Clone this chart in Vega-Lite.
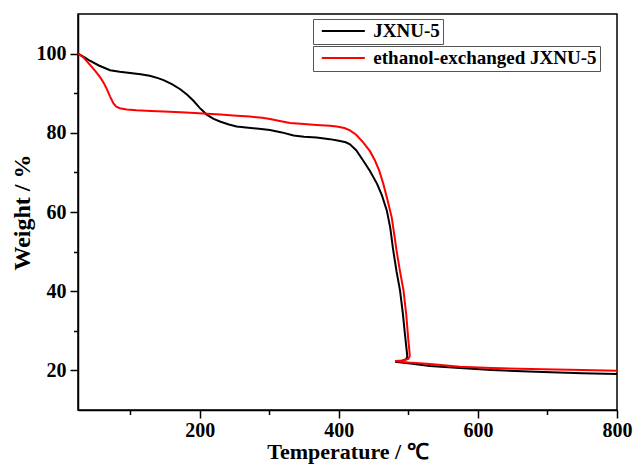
{
  "$schema": "https://vega.github.io/schema/vega-lite/v6.json",
  "width": 539,
  "height": 396,
  "autosize": {"type": "none"},
  "padding": {"left": 78, "top": 14, "right": 21, "bottom": 58},
  "background": "white",
  "config": {
    "view": {"stroke": "black", "strokeWidth": 1.5},
    "font": "Liberation Serif"
  },
  "data": {
    "values": [
      {"series": "JXNU-5", "i": 1, "T": 25, "W": 100},
      {"series": "JXNU-5", "i": 2, "T": 35, "W": 99.0},
      {"series": "JXNU-5", "i": 3, "T": 42, "W": 98.2},
      {"series": "JXNU-5", "i": 4, "T": 55, "W": 97.0},
      {"series": "JXNU-5", "i": 5, "T": 71, "W": 95.8},
      {"series": "JXNU-5", "i": 6, "T": 85, "W": 95.4},
      {"series": "JXNU-5", "i": 7, "T": 100, "W": 95.1},
      {"series": "JXNU-5", "i": 8, "T": 115, "W": 94.8},
      {"series": "JXNU-5", "i": 9, "T": 128, "W": 94.4},
      {"series": "JXNU-5", "i": 10, "T": 140, "W": 93.8},
      {"series": "JXNU-5", "i": 11, "T": 148, "W": 93.3},
      {"series": "JXNU-5", "i": 12, "T": 160, "W": 92.3},
      {"series": "JXNU-5", "i": 13, "T": 172, "W": 91.0},
      {"series": "JXNU-5", "i": 14, "T": 182, "W": 89.6},
      {"series": "JXNU-5", "i": 15, "T": 191, "W": 88.1},
      {"series": "JXNU-5", "i": 16, "T": 200, "W": 86.3},
      {"series": "JXNU-5", "i": 17, "T": 210, "W": 84.6},
      {"series": "JXNU-5", "i": 18, "T": 220, "W": 83.5},
      {"series": "JXNU-5", "i": 19, "T": 230, "W": 82.8},
      {"series": "JXNU-5", "i": 20, "T": 242, "W": 82.1},
      {"series": "JXNU-5", "i": 21, "T": 253, "W": 81.6},
      {"series": "JXNU-5", "i": 22, "T": 270, "W": 81.3},
      {"series": "JXNU-5", "i": 23, "T": 285, "W": 81.0},
      {"series": "JXNU-5", "i": 24, "T": 301, "W": 80.7},
      {"series": "JXNU-5", "i": 25, "T": 318, "W": 80.1},
      {"series": "JXNU-5", "i": 26, "T": 335, "W": 79.3},
      {"series": "JXNU-5", "i": 27, "T": 350, "W": 79.0},
      {"series": "JXNU-5", "i": 28, "T": 368, "W": 78.8},
      {"series": "JXNU-5", "i": 29, "T": 387, "W": 78.4},
      {"series": "JXNU-5", "i": 30, "T": 400, "W": 78.0},
      {"series": "JXNU-5", "i": 31, "T": 410, "W": 77.6},
      {"series": "JXNU-5", "i": 32, "T": 416, "W": 77.1},
      {"series": "JXNU-5", "i": 33, "T": 425, "W": 75.6},
      {"series": "JXNU-5", "i": 34, "T": 435, "W": 73.0},
      {"series": "JXNU-5", "i": 35, "T": 445, "W": 70.3},
      {"series": "JXNU-5", "i": 36, "T": 455, "W": 67.1},
      {"series": "JXNU-5", "i": 37, "T": 462, "W": 64.2},
      {"series": "JXNU-5", "i": 38, "T": 469, "W": 60.4},
      {"series": "JXNU-5", "i": 39, "T": 474, "W": 56.0},
      {"series": "JXNU-5", "i": 40, "T": 478, "W": 50.6},
      {"series": "JXNU-5", "i": 41, "T": 483, "W": 45.0},
      {"series": "JXNU-5", "i": 42, "T": 488, "W": 40.2},
      {"series": "JXNU-5", "i": 43, "T": 492, "W": 34.5},
      {"series": "JXNU-5", "i": 44, "T": 495, "W": 29.3},
      {"series": "JXNU-5", "i": 45, "T": 497, "W": 26.0},
      {"series": "JXNU-5", "i": 46, "T": 498.5, "W": 23.6},
      {"series": "JXNU-5", "i": 47, "T": 497, "W": 22.8},
      {"series": "JXNU-5", "i": 48, "T": 490, "W": 22.4},
      {"series": "JXNU-5", "i": 49, "T": 481, "W": 22.2},
      {"series": "JXNU-5", "i": 50, "T": 490, "W": 22.0},
      {"series": "JXNU-5", "i": 51, "T": 500, "W": 21.8},
      {"series": "JXNU-5", "i": 52, "T": 531, "W": 21.1},
      {"series": "JXNU-5", "i": 53, "T": 574, "W": 20.6},
      {"series": "JXNU-5", "i": 54, "T": 620, "W": 20.1},
      {"series": "JXNU-5", "i": 55, "T": 694, "W": 19.6},
      {"series": "JXNU-5", "i": 56, "T": 750, "W": 19.3},
      {"series": "JXNU-5", "i": 57, "T": 800, "W": 19.1},
      {"series": "ethanol-exchanged JXNU-5", "i": 1, "T": 25, "W": 100},
      {"series": "ethanol-exchanged JXNU-5", "i": 2, "T": 33, "W": 99.0},
      {"series": "ethanol-exchanged JXNU-5", "i": 3, "T": 42, "W": 97.2},
      {"series": "ethanol-exchanged JXNU-5", "i": 4, "T": 50, "W": 95.6},
      {"series": "ethanol-exchanged JXNU-5", "i": 5, "T": 57, "W": 94.0},
      {"series": "ethanol-exchanged JXNU-5", "i": 6, "T": 62, "W": 92.6},
      {"series": "ethanol-exchanged JXNU-5", "i": 7, "T": 66, "W": 91.2},
      {"series": "ethanol-exchanged JXNU-5", "i": 8, "T": 71, "W": 89.2},
      {"series": "ethanol-exchanged JXNU-5", "i": 9, "T": 76, "W": 87.4},
      {"series": "ethanol-exchanged JXNU-5", "i": 10, "T": 80, "W": 86.6},
      {"series": "ethanol-exchanged JXNU-5", "i": 11, "T": 85, "W": 86.2},
      {"series": "ethanol-exchanged JXNU-5", "i": 12, "T": 95, "W": 85.9},
      {"series": "ethanol-exchanged JXNU-5", "i": 13, "T": 109, "W": 85.7},
      {"series": "ethanol-exchanged JXNU-5", "i": 14, "T": 130, "W": 85.5},
      {"series": "ethanol-exchanged JXNU-5", "i": 15, "T": 157, "W": 85.3},
      {"series": "ethanol-exchanged JXNU-5", "i": 16, "T": 180, "W": 85.1},
      {"series": "ethanol-exchanged JXNU-5", "i": 17, "T": 205, "W": 84.9},
      {"series": "ethanol-exchanged JXNU-5", "i": 18, "T": 230, "W": 84.6},
      {"series": "ethanol-exchanged JXNU-5", "i": 19, "T": 253, "W": 84.3},
      {"series": "ethanol-exchanged JXNU-5", "i": 20, "T": 272, "W": 84.1},
      {"series": "ethanol-exchanged JXNU-5", "i": 21, "T": 290, "W": 83.8},
      {"series": "ethanol-exchanged JXNU-5", "i": 22, "T": 301, "W": 83.5},
      {"series": "ethanol-exchanged JXNU-5", "i": 23, "T": 315, "W": 83.0},
      {"series": "ethanol-exchanged JXNU-5", "i": 24, "T": 330, "W": 82.5},
      {"series": "ethanol-exchanged JXNU-5", "i": 25, "T": 350, "W": 82.2},
      {"series": "ethanol-exchanged JXNU-5", "i": 26, "T": 368, "W": 82.0},
      {"series": "ethanol-exchanged JXNU-5", "i": 27, "T": 387, "W": 81.8},
      {"series": "ethanol-exchanged JXNU-5", "i": 28, "T": 397, "W": 81.6},
      {"series": "ethanol-exchanged JXNU-5", "i": 29, "T": 408, "W": 81.2},
      {"series": "ethanol-exchanged JXNU-5", "i": 30, "T": 416, "W": 80.6},
      {"series": "ethanol-exchanged JXNU-5", "i": 31, "T": 425, "W": 79.5},
      {"series": "ethanol-exchanged JXNU-5", "i": 32, "T": 435, "W": 77.6},
      {"series": "ethanol-exchanged JXNU-5", "i": 33, "T": 445, "W": 75.3},
      {"series": "ethanol-exchanged JXNU-5", "i": 34, "T": 452, "W": 73.0},
      {"series": "ethanol-exchanged JXNU-5", "i": 35, "T": 458, "W": 70.5},
      {"series": "ethanol-exchanged JXNU-5", "i": 36, "T": 464, "W": 67.1},
      {"series": "ethanol-exchanged JXNU-5", "i": 37, "T": 470, "W": 63.0},
      {"series": "ethanol-exchanged JXNU-5", "i": 38, "T": 476, "W": 58.7},
      {"series": "ethanol-exchanged JXNU-5", "i": 39, "T": 480, "W": 54.0},
      {"series": "ethanol-exchanged JXNU-5", "i": 40, "T": 483, "W": 50.3},
      {"series": "ethanol-exchanged JXNU-5", "i": 41, "T": 488, "W": 45.0},
      {"series": "ethanol-exchanged JXNU-5", "i": 42, "T": 493, "W": 40.2},
      {"series": "ethanol-exchanged JXNU-5", "i": 43, "T": 497, "W": 34.0},
      {"series": "ethanol-exchanged JXNU-5", "i": 44, "T": 500, "W": 27.6},
      {"series": "ethanol-exchanged JXNU-5", "i": 45, "T": 501.5, "W": 25.0},
      {"series": "ethanol-exchanged JXNU-5", "i": 46, "T": 502, "W": 23.6},
      {"series": "ethanol-exchanged JXNU-5", "i": 47, "T": 500, "W": 22.9},
      {"series": "ethanol-exchanged JXNU-5", "i": 48, "T": 492, "W": 22.5},
      {"series": "ethanol-exchanged JXNU-5", "i": 49, "T": 481, "W": 22.4},
      {"series": "ethanol-exchanged JXNU-5", "i": 50, "T": 490, "W": 22.2},
      {"series": "ethanol-exchanged JXNU-5", "i": 51, "T": 500, "W": 22.0},
      {"series": "ethanol-exchanged JXNU-5", "i": 52, "T": 531, "W": 21.6},
      {"series": "ethanol-exchanged JXNU-5", "i": 53, "T": 574, "W": 20.9},
      {"series": "ethanol-exchanged JXNU-5", "i": 54, "T": 620, "W": 20.6},
      {"series": "ethanol-exchanged JXNU-5", "i": 55, "T": 694, "W": 20.3},
      {"series": "ethanol-exchanged JXNU-5", "i": 56, "T": 750, "W": 20.1},
      {"series": "ethanol-exchanged JXNU-5", "i": 57, "T": 800, "W": 19.9}
    ]
  },
  "encoding": {
    "x": {
      "field": "T", "type": "quantitative",
      "scale": {"domain": [25, 800], "nice": false, "zero": false},
      "axis": {
        "values": [100, 200, 300, 400, 500, 600, 700, 800],
        "labelExpr": "datum.value % 200 === 0 ? datum.label : ''",
        "format": "d",
        "tickSize": {"condition": {"test": "datum.value % 200 === 0", "value": 8}, "value": 4.5},
        "grid": false,
        "domainColor": "black", "domainWidth": 1.5,
        "tickColor": "black", "tickWidth": 1.5,
        "labelFont": "Liberation Serif", "labelFontSize": 20, "labelFontWeight": "bold", "labelColor": "black",
        "labelFlush": false, "labelOverlap": false, "labelPadding": 2,
        "title": "Temperature / ℃",
        "titleFont": "Liberation Serif", "titleFontSize": 22, "titleFontWeight": "bold", "titleColor": "black",
        "titlePadding": 1
      }
    },
    "y": {
      "field": "W", "type": "quantitative",
      "scale": {"domain": [10, 110], "nice": false, "zero": false},
      "axis": {
        "values": [20, 30, 40, 50, 60, 70, 80, 90, 100],
        "labelExpr": "datum.value % 20 === 0 ? datum.label : ''",
        "format": "d",
        "tickSize": {"condition": {"test": "datum.value % 20 === 0", "value": 8}, "value": 4.5},
        "grid": false,
        "domainColor": "black", "domainWidth": 1.5,
        "tickColor": "black", "tickWidth": 1.5,
        "labelFont": "Liberation Serif", "labelFontSize": 20, "labelFontWeight": "bold", "labelColor": "black",
        "labelFlush": false, "labelOverlap": false, "labelPadding": 4,
        "title": "Weight / %",
        "titleFont": "Liberation Serif", "titleFontSize": 24, "titleFontWeight": "bold", "titleColor": "black",
        "titlePadding": 2
      }
    },
    "order": {"field": "i", "type": "quantitative"}
  },
  "layer": [
    {
      "transform": [{"filter": "datum.series === 'JXNU-5'"}],
      "mark": {"type": "line", "strokeWidth": 2},
      "encoding": {
        "color": {
          "field": "series", "type": "nominal",
          "scale": {"domain": ["JXNU-5"], "range": ["black"]},
          "legend": {
            "orient": "none", "legendX": 235, "legendY": 5, "title": null,
            "symbolType": "M-0.46,0H5.69", "symbolSize": 196, "symbolStrokeWidth": 2,
            "labelFont": "Liberation Serif", "labelFontSize": 19, "labelFontWeight": "bold", "labelColor": "black",
            "labelOffset": 38.8, "labelLimit": 400, "strokeColor": "#555", "padding": 2.5
          }
        }
      }
    },
    {
      "transform": [{"filter": "datum.series === 'ethanol-exchanged JXNU-5'"}],
      "mark": {"type": "line", "strokeWidth": 2},
      "encoding": {
        "color": {
          "field": "series", "type": "nominal",
          "scale": {"domain": ["ethanol-exchanged JXNU-5"], "range": ["#ff0000"]},
          "legend": {
            "orient": "none", "legendX": 235, "legendY": 32, "title": null,
            "symbolType": "M-0.46,0H5.69", "symbolSize": 196, "symbolStrokeWidth": 2,
            "labelFont": "Liberation Serif", "labelFontSize": 19, "labelFontWeight": "bold", "labelColor": "black",
            "labelOffset": 38.8, "labelLimit": 400, "strokeColor": "#555", "padding": 2.5
          }
        }
      }
    }
  ],
  "resolve": {"scale": {"color": "independent"}}
}
